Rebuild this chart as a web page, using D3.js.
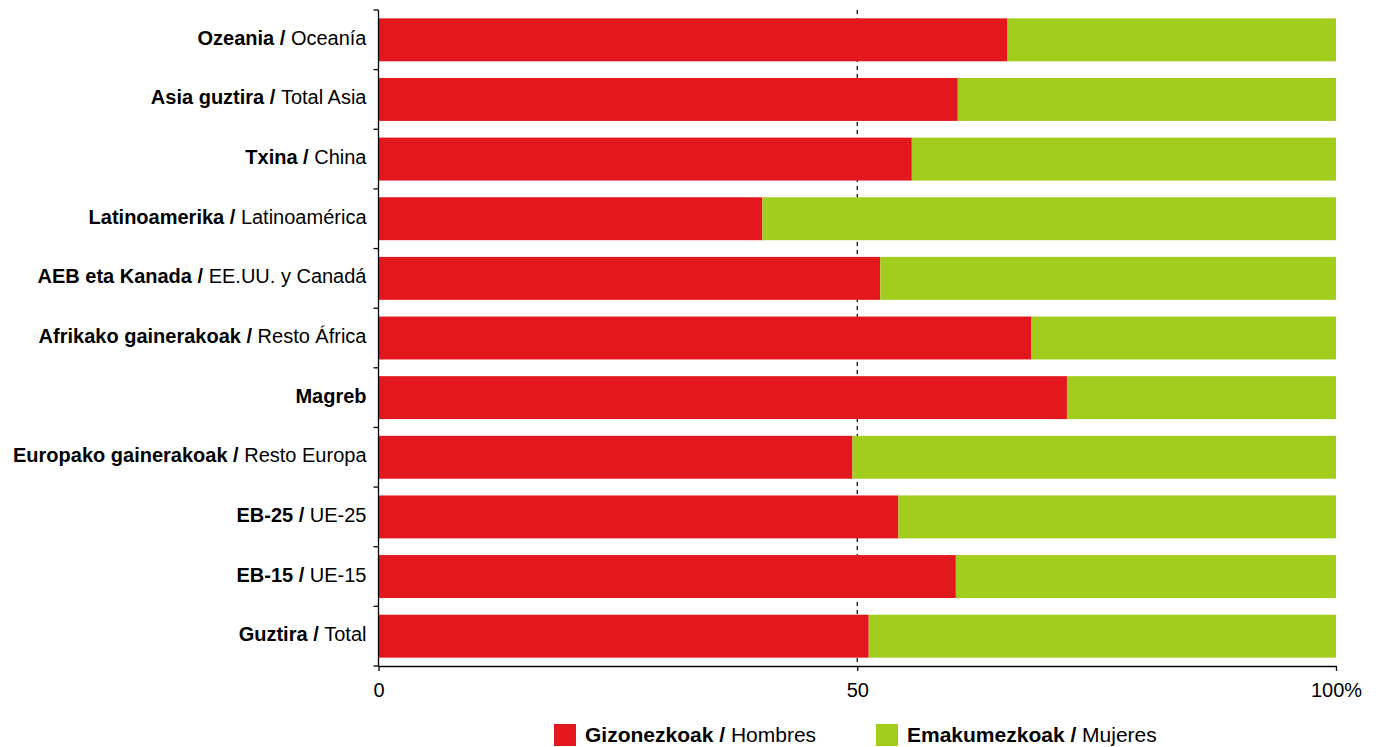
<!DOCTYPE html>
<html>
<head>
<meta charset="utf-8">
<script src="https://cdn.jsdelivr.net/npm/d3@7/dist/d3.min.js"></script>
<style>
  html, body { margin: 0; padding: 0; background: #fff; }
  svg { display: block; font-family: "Liberation Sans", Arial, sans-serif; }
</style>
</head>
<body>
<svg id="chart" width="1378" height="747"></svg>
<script>
// Region labels: Basque (bold) / Spanish
const regionsEu = ["Ozeania", "Asia guztira", "Txina", "Latinoamerika", "AEB eta Kanada",
  "Afrikako gainerakoak", "Magreb", "Europako gainerakoak", "EB-25", "EB-15", "Guztira"];
const regionsEs = ["Oceanía", "Total Asia", "China", "Latinoamérica", "EE.UU. y Canadá",
  "Resto África", "", "Resto Europa", "UE-25", "UE-15", "Total"];

// Share of men (%) per region; women make up the rest
const menShare = [65.7, 60.5, 55.7, 40.1, 52.4, 68.2, 71.9, 49.5, 54.3, 60.3, 51.2];
const womenShare = menShare.map(v => 100 - v);

const xTicks = [0, 50, 100];
const xTickLabels = ["0", "50", "100%"];

const seriesNames = [
  { eu: "Gizonezkoak", es: "Hombres" },
  { eu: "Emakumezkoak", es: "Mujeres" }
];
const colors = ["#e3181f", "#a3cd1c"];

const svg = d3.select("#chart");
const margin = { top: 10, left: 378.5, right: 42, bottom: 81 };
const width = 1378, height = 747;

const x = d3.scaleLinear().domain([0, 100]).range([margin.left, width - margin.right]);
const y = d3.scaleBand().domain(d3.range(regionsEu.length))
  .range([margin.top, height - margin.bottom]).paddingInner(0.28).paddingOuter(0.14);

// dashed reference at 50%
svg.append("line")
  .attr("x1", x(50)).attr("x2", x(50))
  .attr("y1", margin.top).attr("y2", height - margin.bottom)
  .attr("stroke", "#000").attr("stroke-width", 1.2)
  .attr("stroke-dasharray", "4,4");

// stacked bars
const rows = menShare.map((m, i) => ({ i, men: m, women: womenShare[i] }));
const g = svg.append("g");
g.selectAll("rect.men").data(rows).join("rect")
  .attr("class", "men")
  .attr("x", d => x(0)).attr("y", d => y(d.i))
  .attr("width", d => x(d.men) - x(0)).attr("height", y.bandwidth())
  .attr("fill", colors[0]);
g.selectAll("rect.women").data(rows).join("rect")
  .attr("class", "women")
  .attr("x", d => x(d.men)).attr("y", d => y(d.i))
  .attr("width", d => x(d.men + d.women) - x(d.men)).attr("height", y.bandwidth())
  .attr("fill", colors[1]);

// y axis: line with ticks at band boundaries
const yAxisG = svg.append("g");
const y0 = margin.top, y1 = height - margin.bottom;
yAxisG.append("line").attr("x1", x(0)).attr("x2", x(0)).attr("y1", y0).attr("y2", y1)
  .attr("stroke", "#000").attr("stroke-width", 1.3);
const step = (y1 - y0) / regionsEu.length;
d3.range(regionsEu.length + 1).forEach(k => {
  yAxisG.append("line").attr("x1", x(0) - 5).attr("x2", x(0))
    .attr("y1", y0 + k * step).attr("y2", y0 + k * step)
    .attr("stroke", "#000").attr("stroke-width", 1.3);
});

// category labels
const labels = svg.append("g").selectAll("text").data(rows).join("text")
  .attr("x", x(0) - 12)
  .attr("y", d => y(d.i) + y.bandwidth() / 2)
  .attr("dy", "0.25em")
  .attr("text-anchor", "end")
  .attr("font-size", 20)
  .attr("fill", "#000");
labels.append("tspan").attr("font-weight", "bold")
  .text(d => regionsEs[d.i] ? regionsEu[d.i] + " / " : regionsEu[d.i]);
labels.append("tspan").text(d => regionsEs[d.i]);

// x axis
const xAxis = d3.axisBottom(x).tickValues(xTicks)
  .tickFormat((d, i) => xTickLabels[i]).tickSize(5).tickSizeOuter(0).tickPadding(12);
const xg = svg.append("g").attr("transform", `translate(0,${y1})`).call(xAxis);
xg.select(".domain").attr("stroke", "#000").attr("stroke-width", 1.3);
xg.selectAll(".tick line").attr("stroke", "#000").attr("stroke-width", 1.3);
xg.selectAll(".tick text").attr("font-size", 20).attr("fill", "#000")
  .attr("font-family", "Liberation Sans, Arial, sans-serif");

// legend
const legendItems = [{ x: 554, s: seriesNames[0], c: colors[0] }, { x: 876, s: seriesNames[1], c: colors[1] }];
const lg = svg.append("g");
legendItems.forEach(it => {
  lg.append("rect").attr("x", it.x).attr("y", 724).attr("width", 22).attr("height", 22).attr("fill", it.c);
  const t = lg.append("text").attr("x", it.x + 31).attr("y", 735).attr("dy", "0.35em")
    .attr("font-size", 21).attr("fill", "#000");
  t.append("tspan").attr("font-weight", "bold").text(it.s.eu + " / ");
  t.append("tspan").text(it.s.es);
});
</script>
</body>
</html>
